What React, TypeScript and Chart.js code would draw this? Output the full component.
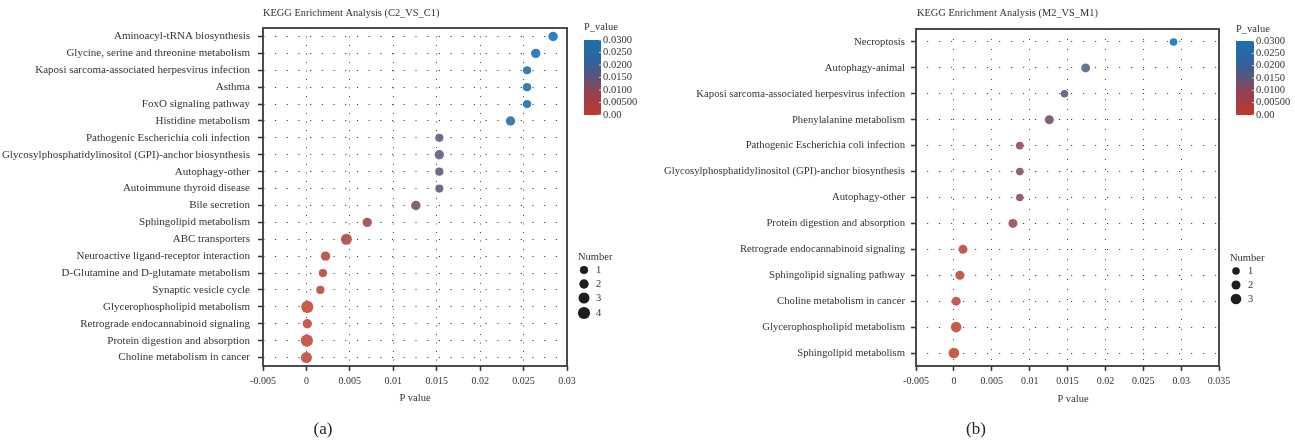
import React, { useEffect, useRef } from "react";
import { Chart, registerables } from "chart.js";

Chart.register(...registerables);

// ---------- DATA ----------
const leftTitle = "KEGG Enrichment Analysis (C2_VS_C1)";
const leftCategories = [
  "Aminoacyl-tRNA biosynthesis",
  "Glycine, serine and threonine metabolism",
  "Kaposi sarcoma-associated herpesvirus infection",
  "Asthma",
  "FoxO signaling pathway",
  "Histidine metabolism",
  "Pathogenic Escherichia coli infection",
  "Glycosylphosphatidylinositol (GPI)-anchor biosynthesis",
  "Autophagy-other",
  "Autoimmune thyroid disease",
  "Bile secretion",
  "Sphingolipid metabolism",
  "ABC transporters",
  "Neuroactive ligand-receptor interaction",
  "D-Glutamine and D-glutamate metabolism",
  "Synaptic vesicle cycle",
  "Glycerophospholipid metabolism",
  "Retrograde endocannabinoid signaling",
  "Protein digestion and absorption",
  "Choline metabolism in cancer",
];
const leftPValues = [
  0.0284, 0.0264, 0.0254, 0.0254, 0.0254, 0.0235, 0.0153, 0.0153, 0.0153, 0.0153,
  0.0126, 0.007, 0.0046, 0.0022, 0.0019, 0.0016, 0.0001, 0.0001, 0.00005, 0.0,
];
const leftCounts = [2, 2, 1, 1, 1, 2, 1, 2, 1, 1, 2, 2, 3, 2, 1, 1, 4, 2, 4, 3];
const leftXTicks = [-0.005, 0, 0.005, 0.01, 0.015, 0.02, 0.025, 0.03];
const leftSizeLegend = [1, 2, 3, 4];

const rightTitle = "KEGG Enrichment Analysis (M2_VS_M1)";
const rightCategories = [
  "Necroptosis",
  "Autophagy-animal",
  "Kaposi sarcoma-associated herpesvirus infection",
  "Phenylalanine metabolism",
  "Pathogenic Escherichia coli infection",
  "Glycosylphosphatidylinositol (GPI)-anchor biosynthesis",
  "Autophagy-other",
  "Protein digestion and absorption",
  "Retrograde endocannabinoid signaling",
  "Sphingolipid signaling pathway",
  "Choline metabolism in cancer",
  "Glycerophospholipid metabolism",
  "Sphingolipid metabolism",
];
const rightPValues = [
  0.029, 0.0174, 0.0146, 0.0126, 0.0087, 0.0087, 0.0087, 0.0078, 0.0012, 0.0008, 0.0003, 0.0003, 0.0,
];
const rightCounts = [1, 2, 1, 2, 1, 1, 1, 2, 2, 2, 2, 3, 3];
const rightXTicks = [-0.005, 0, 0.005, 0.01, 0.015, 0.02, 0.025, 0.03, 0.035];
const rightSizeLegend = [1, 2, 3];

const colorbarValues = [0.03, 0.025, 0.02, 0.015, 0.01, 0.005, 0];
const colorbarLabels = ["0.0300", "0.0250", "0.0200", "0.0150", "0.0100", "0.00500", "0.00"];
const colorMax = 0.03;

// ---------- STYLE ----------
const FONT = "'Liberation Serif', 'DejaVu Serif', 'Times New Roman', serif";
const TEXT = "#333";

const dotStops: [number, number[]][] = [
  [0, [200, 92, 76]],
  [0.0075, [162, 93, 98]],
  [0.0125, [126, 100, 122]],
  [0.015, [110, 107, 135]],
  [0.0175, [100, 118, 150]],
  [0.0235, [62, 125, 180]],
  [0.03, [35, 130, 200]],
];
const barStops: [number, string][] = [
  [0, "#c0392b"],
  [0.3, "#944052"],
  [0.5, "#5c5578"],
  [0.7, "#33619a"],
  [1, "#1a70b0"],
];

function dotColor(p: number): string {
  const v = Math.max(0, Math.min(colorMax, p));
  for (let i = 1; i < dotStops.length; i++) {
    const [v0, c0] = dotStops[i - 1];
    const [v1, c1] = dotStops[i];
    if (v <= v1) {
      const t = (v - v0) / (v1 - v0);
      const c = c0.map((a, k) => Math.round(a + (c1[k] - a) * t));
      return `rgb(${c[0]},${c[1]},${c[2]})`;
    }
  }
  const c = dotStops[dotStops.length - 1][1];
  return `rgb(${c[0]},${c[1]},${c[2]})`;
}

type Panel = {
  title: string;
  label: string;
  categories: string[];
  pvalues: number[];
  counts: number[];
  xTicks: number[];
  sizeLegend: number[];
  radii: number[];
  width: number;
  area: { left: number; right: number; top: number; bottom: number };
  yFont: number;
  yPad: number;
  titleFont: number;
  vDash: number[];
  hDash: number[];
  hDashOffset: number;
  titlePos: [number, number];
  xTitlePos: [number, number];
  labelPos: [number, number];
  bar: { x: number; y0: number; w: number; y1: number; titleY: number };
  legend: { x: number; titleY: number; ys: number[] };
};

const H = 445;

const panels: Panel[] = [
  {
    title: leftTitle,
    label: "(a)",
    categories: leftCategories,
    pvalues: leftPValues,
    counts: leftCounts,
    xTicks: leftXTicks,
    sizeLegend: leftSizeLegend,
    radii: [4.1, 4.7, 5.5, 6.1],
    width: 640,
    area: { left: 263, right: 567, top: 28, bottom: 366 },
    yFont: 11,
    yPad: 8,
    titleFont: 10.4,
    vDash: [1, 7.5],
    hDash: [1.2, 10.5],
    hDashOffset: -12,
    titlePos: [263, 13],
    xTitlePos: [415, 398],
    labelPos: [323, 430],
    bar: { x: 584, y0: 40, w: 17, y1: 115, titleY: 27 },
    legend: { x: 584, titleY: 257, ys: [270, 284, 298, 313] },
  },
  {
    title: rightTitle,
    label: "(b)",
    categories: rightCategories,
    pvalues: rightPValues,
    counts: rightCounts,
    xTicks: rightXTicks,
    sizeLegend: rightSizeLegend,
    radii: [3.8, 4.5, 5.3],
    width: 655,
    area: { left: 276, right: 579, top: 29, bottom: 366 },
    yFont: 10.7,
    yPad: 6,
    titleFont: 10.4,
    vDash: [1, 9],
    hDash: [1.2, 10.8],
    hDashOffset: -11,
    titlePos: [277, 13],
    xTitlePos: [433, 399],
    labelPos: [336, 430],
    bar: { x: 596, y0: 41, w: 18, y1: 115, titleY: 29 },
    legend: { x: 596, titleY: 258, ys: [271, 285, 299] },
  },
];

function makeDecor(p: Panel) {
  return {
    id: "decor",
    afterDraw(chart: any) {
      const ctx: CanvasRenderingContext2D = chart.ctx;
      const a = chart.chartArea;
      ctx.save();
      // box
      ctx.strokeStyle = "#3a3a3a";
      ctx.lineWidth = 1.8;
      ctx.strokeRect(a.left, a.top, a.right - a.left, a.bottom - a.top);

      ctx.fillStyle = TEXT;
      // title
      ctx.font = `${p.titleFont}px ${FONT}`;
      ctx.textAlign = "left";
      ctx.textBaseline = "middle";
      ctx.fillText(p.title, p.titlePos[0], p.titlePos[1]);
      // x title
      ctx.font = `10.5px ${FONT}`;
      ctx.textAlign = "center";
      ctx.fillText("P value", p.xTitlePos[0], p.xTitlePos[1]);
      // panel label
      ctx.font = `17px ${FONT}`;
      ctx.fillStyle = "#222";
      ctx.fillText(p.label, p.labelPos[0], p.labelPos[1]);

      // colorbar
      const b = p.bar;
      const g = ctx.createLinearGradient(0, b.y1, 0, b.y0);
      barStops.forEach(([s, c]) => g.addColorStop(s, c));
      ctx.fillStyle = g;
      ctx.fillRect(b.x, b.y0, b.w, b.y1 - b.y0);
      ctx.fillStyle = TEXT;
      ctx.font = `10.5px ${FONT}`;
      ctx.textAlign = "left";
      ctx.fillText("P_value", b.x, b.titleY);
      ctx.strokeStyle = "#ddd";
      ctx.lineWidth = 1;
      colorbarValues.forEach((v, i) => {
        const y = b.y1 - (v / colorMax) * (b.y1 - b.y0);
        ctx.beginPath();
        ctx.moveTo(b.x + b.w - 2, y);
        ctx.lineTo(b.x + b.w + 1, y);
        ctx.stroke();
        ctx.fillText(colorbarLabels[i], b.x + b.w + 2, y);
      });

      // size legend
      const L = p.legend;
      ctx.fillText("Number", L.x - 6, L.titleY);
      p.sizeLegend.forEach((n, i) => {
        ctx.beginPath();
        ctx.fillStyle = "#1e1e1e";
        ctx.arc(L.x, L.ys[i], p.radii[n - 1], 0, Math.PI * 2);
        ctx.fill();
        ctx.fillStyle = TEXT;
        ctx.fillText(String(n), L.x + 12, L.ys[i]);
      });
      ctx.restore();
    },
  };
}

function PanelChart({ p }: { p: Panel }) {
  const ref = useRef<HTMLCanvasElement | null>(null);
  useEffect(() => {
    if (!ref.current) return;
    const n = p.categories.length;
    const chart = new Chart(ref.current, {
      type: "scatter",
      data: {
        datasets: [
          {
            data: p.pvalues.map((v, i) => ({ x: v, y: i })),
            pointRadius: (c: any) => p.radii[p.counts[c.dataIndex] - 1],
            pointHoverRadius: (c: any) => p.radii[p.counts[c.dataIndex] - 1],
            pointBackgroundColor: (c: any) => dotColor(p.pvalues[c.dataIndex]),
            pointBorderWidth: 0,
          } as any,
        ],
      },
      options: {
        animation: false,
        responsive: false,
        events: [],
        layout: {
          padding: { left: 0, right: p.width - p.area.right, top: p.area.top, bottom: 0 },
        },
        plugins: {
          legend: { display: false },
          tooltip: { enabled: false },
          title: { display: false },
        },
        scales: {
          x: {
            type: "linear",
            min: p.xTicks[0],
            max: p.xTicks[p.xTicks.length - 1],
            afterBuildTicks: (s: any) => {
              s.ticks = p.xTicks.map((v) => ({ value: v }));
            },
            afterFit: (s: any) => {
              s.height = H - p.area.bottom;
            },
            grid: {
              color: "#444",
              lineWidth: 1,
              drawTicks: true,
              tickLength: 5,
              tickColor: "#333",
              tickWidth: 1.5,
            },
            border: { display: false, dash: p.vDash },
            ticks: {
              color: TEXT,
              font: { family: FONT, size: 10 },
              padding: 4,
              maxRotation: 0,
              autoSkip: false,
              callback: (v: any) => String(v),
            },
          },
          y: {
            type: "linear",
            reverse: true,
            min: -0.5,
            max: n - 0.5,
            afterBuildTicks: (s: any) => {
              s.ticks = p.categories.map((_, i) => ({ value: i }));
            },
            afterFit: (s: any) => {
              s.width = p.area.left;
            },
            grid: {
              color: "#444",
              lineWidth: 1,
              drawTicks: true,
              tickLength: 5,
              tickColor: "#333",
              tickWidth: 1.5,
            },
            border: { display: false, dash: p.hDash, dashOffset: p.hDashOffset },
            ticks: {
              color: TEXT,
              font: { family: FONT, size: p.yFont },
              padding: p.yPad,
              autoSkip: false,
              callback: (v: any) => p.categories[v as number] ?? "",
            },
          },
        },
      } as any,
      plugins: [makeDecor(p)],
    });
    return () => chart.destroy();
  }, [p]);
  return (
    <canvas
      ref={ref}
      width={p.width}
      height={H}
      style={{ display: "block", width: p.width, height: H }}
    />
  );
}

export default function App() {
  return (
    <div
      style={{
        position: "absolute",
        left: 0,
        top: 0,
        width: 1295,
        height: H,
        display: "flex",
        background: "#fff",
      }}
    >
      {panels.map((p) => (
        <PanelChart key={p.label} p={p} />
      ))}
    </div>
  );
}
